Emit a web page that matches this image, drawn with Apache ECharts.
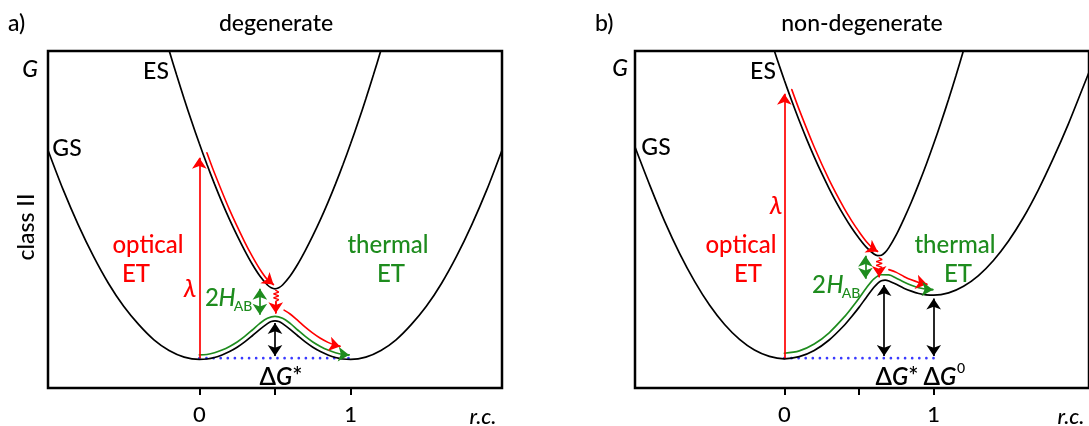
<!DOCTYPE html>
<html><head><meta charset="utf-8">
<script src="https://cdn.jsdelivr.net/npm/echarts@6/dist/echarts.min.js"></script>
<style>html,body{margin:0;padding:0;background:#fff}#c{width:1089px;height:426px}</style>
</head><body><div id="c"></div>
<script>
// ---------------- data (reaction coordinate x, free energy G) ----------------
const xTicks = [0, 0.5, 1];
const xTickLabels = [0, 1];
const panelTitles = ['degenerate', 'non-degenerate'];
const panelLetters = ['a)', 'b)'];

// panel a: degenerate
const gsA = [[-1,0.975],[-0.9,0.79],[-0.8,0.625],[-0.7,0.478],[-0.6,0.35],[-0.5,0.243],[-0.4,0.157],[-0.3,0.086],[-0.2,0.036],[-0.1,0.005],[0,-0.006],[0.05,-0.004],[0.1,0.003],[0.15,0.015],[0.2,0.031],[0.25,0.051],[0.3,0.076],[0.35,0.105],[0.4,0.135],[0.45,0.162],[0.475,0.172],[0.5,0.175],[0.525,0.172],[0.55,0.162],[0.6,0.135],[0.65,0.105],[0.7,0.076],[0.75,0.051],[0.8,0.031],[0.85,0.015],[0.9,0.003],[0.95,-0.004],[1,-0.006],[1.1,0.005],[1.2,0.036],[1.3,0.086],[1.4,0.157],[1.5,0.243],[1.6,0.35],[1.7,0.478],[1.8,0.625],[1.9,0.79],[2,0.975]];
const esA = [[-0.25,1.566],[-0.2,1.444],[-0.15,1.327],[-0.1,1.215],[-0.05,1.108],[0,1.006],[0.05,0.909],[0.1,0.817],[0.15,0.73],[0.2,0.649],[0.25,0.574],[0.3,0.504],[0.35,0.44],[0.4,0.385],[0.45,0.343],[0.475,0.33],[0.5,0.325],[0.525,0.33],[0.55,0.343],[0.6,0.385],[0.65,0.44],[0.7,0.504],[0.75,0.574],[0.8,0.649],[0.85,0.73],[0.9,0.817],[0.95,0.909],[1,1.006],[1.05,1.108],[1.1,1.215],[1.15,1.327],[1.2,1.444],[1.25,1.566]];
const opticalA = [[0,0],[0,0.94]];
const relaxA = [[0.05,0.963],[0.1,0.868],[0.2,0.695],[0.3,0.544],[0.35,0.477],[0.4,0.417],[0.45,0.368],[0.49,0.345]];
const wavyA = [[0.505,0.318],[0.525,0.31],[0.49,0.301],[0.525,0.292],[0.49,0.283],[0.525,0.274],[0.505,0.266],[0.505,0.21]];
const decayA = [[0.56,0.225],[0.6,0.207],[0.65,0.177],[0.7,0.145],[0.75,0.117],[0.8,0.093],[0.85,0.074],[0.9,0.06],[0.93,0.055]];
const thermalA = [[0,0.015],[0.05,0.017],[0.1,0.025],[0.15,0.038],[0.2,0.055],[0.25,0.076],[0.3,0.102],[0.35,0.132],[0.4,0.163],[0.45,0.187],[0.5,0.196],[0.55,0.187],[0.6,0.163],[0.65,0.132],[0.7,0.102],[0.75,0.076],[0.8,0.055],[0.85,0.038],[0.9,0.025],[0.95,0.017],[0.99,0.015]];
const habA = [[0.4,0.325],[0.4,0.203]];
const dGstarA = [[0.5,0.165],[0.5,0.01]];
const baseA = [[0,0],[1,0]];

// panel b: non-degenerate
const gsB = [[-1,0.99],[-0.9,0.809],[-0.8,0.639],[-0.7,0.489],[-0.6,0.359],[-0.5,0.248],[-0.4,0.158],[-0.3,0.088],[-0.2,0.038],[-0.1,0.008],[0,-0.003],[0.1,0.007],[0.2,0.036],[0.3,0.085],[0.4,0.153],[0.45,0.194],[0.5,0.238],[0.55,0.286],[0.6,0.332],[0.625,0.351],[0.65,0.3625],[0.675,0.366],[0.7,0.362],[0.75,0.346],[0.8,0.328],[0.85,0.314],[0.9,0.303],[0.95,0.297],[1,0.295],[1.1,0.306],[1.2,0.337],[1.3,0.387],[1.4,0.458],[1.5,0.548],[1.6,0.658],[1.7,0.788],[1.8,0.935],[1.9,1.095],[2,1.27],[2.04,1.34]];
const esB = [[-0.1,1.512],[-0.05,1.405],[0,1.303],[0.05,1.2055],[0.1,1.113],[0.15,1.026],[0.2,0.944],[0.25,0.867],[0.3,0.795],[0.35,0.728],[0.4,0.667],[0.45,0.611],[0.5,0.562],[0.55,0.519],[0.6,0.488],[0.625,0.481],[0.65,0.4825],[0.675,0.496],[0.7,0.518],[0.75,0.579],[0.8,0.652],[0.85,0.731],[0.9,0.817],[0.95,0.908],[1,1.005],[1.05,1.107],[1.1,1.214],[1.15,1.326],[1.2,1.443],[1.25,1.566]];
const opticalB = [[0,0],[0,1.24]];
const relaxB = [[0.05,1.259],[0.1,1.164],[0.2,0.99],[0.3,0.836],[0.4,0.703],[0.45,0.645],[0.5,0.593],[0.55,0.546],[0.6,0.51],[0.625,0.5]];
const wavyB = [[0.635,0.47],[0.655,0.462],[0.615,0.453],[0.655,0.444],[0.615,0.435],[0.655,0.426],[0.635,0.418],[0.635,0.38]];
const decayB = [[0.7,0.415],[0.75,0.402],[0.8,0.383],[0.85,0.367],[0.9,0.355],[0.955,0.346]];
const thermalB = [[0,0.023],[0.1,0.034],[0.2,0.066],[0.3,0.119],[0.4,0.192],[0.45,0.235],[0.5,0.281],[0.55,0.33],[0.6,0.372],[0.65,0.391],[0.7,0.39],[0.75,0.375],[0.8,0.357],[0.85,0.342],[0.9,0.33],[0.95,0.323],[0.995,0.321]];
const habB = [[0.543,0.48],[0.543,0.372]];
const dGstarB = [[0.668,0.343],[0.668,0.01]];
const dG0B = [[1,0.28],[1,0.01]];
const baseB = [[0,0],[1,0]];

// ---------------- styling ----------------
const RED = '#ff0000', GREEN = '#1e8c1e', BLUE = '#3a3aff', BLACK = '#000';
const FONT = 'Lato, "Open Sans", sans-serif';

function curve(data, color, gi, width, z, dotted) {
  return { type: 'line', xAxisIndex: gi, yAxisIndex: gi, data: data, showSymbol: false, symbol: 'none',
    smooth: dotted ? false : 0.3, silent: true, z: z || 2,
    lineStyle: { color: color, width: width || 1.6, type: dotted ? [0.1, 7] : 'solid', cap: 'round' } };
}
function heads(segs, color, gi, both) {
  return { type: 'lines', coordinateSystem: 'cartesian2d', xAxisIndex: gi, yAxisIndex: gi, silent: true, z: 5,
    symbol: both ? ['arrow', 'arrow'] : ['none', 'arrow'], symbolSize: 11,
    lineStyle: { color: color, width: 1.7, opacity: 1, curveness: 0 },
    data: segs.map(s => ({ coords: s })) };
}
const lastSeg = p => [p[p.length - 2], p[p.length - 1]];

const series = [];
[[gsA, esA, opticalA, relaxA, wavyA, decayA, thermalA, habA, [dGstarA], baseA],
 [gsB, esB, opticalB, relaxB, wavyB, decayB, thermalB, habB, [dGstarB, dG0B], baseB]].forEach((P, gi) => {
  const [gs, es, opt, relax, wavy, decay, therm, hab, dgs, base] = P;
  series.push(curve(base, BLUE, gi, 2.6, 1, true));
  series.push(curve(gs, BLACK, gi, 1.7, 2));
  series.push(curve(es, BLACK, gi, 1.7, 2));
  series.push(curve(therm, GREEN, gi, 1.7, 3));
  series.push(curve(relax, RED, gi, 1.6, 3));
  series.push({ ...curve(wavy, RED, gi, 1.3, 3), smooth: false });
  series.push(curve(decay, RED, gi, 1.6, 3));
  series.push(heads([opt], RED, gi, false));
  series.push(heads([lastSeg(relax), lastSeg(wavy), lastSeg(decay)], RED, gi, false));
  series.push(heads([lastSeg(therm)], GREEN, gi, false));
  series.push(heads([hab], GREEN, gi, true));
  series.push(heads(dgs, BLACK, gi, true));
});

function T(x, y, text, size, color, o) {
  o = o || {};
  return { type: 'text', x: x, y: y, rotation: o.rot || 0, silent: true, z: 100,
    style: { text: text, fill: color || BLACK,
      font: (o.italic ? 'italic ' : '') + (o.weight || 500) + ' ' + size + 'px ' + FONT,
      textAlign: o.align || 'center', align: o.align || 'center',
      textVerticalAlign: 'middle', verticalAlign: 'middle' } };
}

const graphics = [
  T(8, 24, panelLetters[0], 23, BLACK, { align: 'left' }),
  T(276, 24, panelTitles[0], 23),
  T(30, 70, 'G', 23, BLACK, { italic: true }),
  T(27, 227, 'class II', 23, BLACK, { rot: Math.PI / 2 }),
  T(156, 72, 'ES', 23),
  T(67, 149, 'GS', 23),
  T(148, 245, 'optical', 24, RED),
  T(136, 274, 'ET', 24, RED),
  T(388, 245, 'thermal', 24, GREEN),
  T(391, 274, 'ET', 24, GREEN),
  T(190, 289, 'λ', 25, RED, { italic: true }),
  T(212, 298, '2', 24, GREEN),
  T(227, 298, 'H', 24, GREEN, { italic: true }),
  T(243, 306, 'AB', 14, GREEN),
  T(281, 377, '{a|Δ}{b|G}{a|*}', 24),
  T(483, 417, 'r.c.', 22, BLACK, { italic: true }),

  T(595, 24, panelLetters[1], 23, BLACK, { align: 'left' }),
  T(862, 24, panelTitles[1], 23),
  T(620, 69, 'G', 23, BLACK, { italic: true }),
  T(763, 72, 'ES', 23),
  T(656, 148, 'GS', 23),
  T(741, 245, 'optical', 24, RED),
  T(748, 274, 'ET', 24, RED),
  T(955, 245, 'thermal', 24, GREEN),
  T(958, 274, 'ET', 24, GREEN),
  T(776, 206, 'λ', 25, RED, { italic: true }),
  T(819, 285, '2', 24, GREEN),
  T(835, 285, 'H', 24, GREEN, { italic: true }),
  T(851, 293, 'AB', 14, GREEN),
  T(897, 377, '{a|Δ}{b|G}{a|*}', 24),
  T(940, 377, '{a|Δ}{b|G}', 24),
  T(961, 368, '0', 14),
  T(1071, 417, 'r.c.', 22, BLACK, { italic: true })
];
graphics.forEach(g => {
  if (g.style.text.indexOf('{') >= 0) {
    g.style.rich = { a: { fontSize: 24, fontFamily: FONT, fontWeight: 600, fill: BLACK, color: BLACK },
                     b: { fontSize: 24, fontFamily: FONT, fontWeight: 600, fontStyle: 'italic', fill: BLACK, color: BLACK } };
  }
});

function xAx(gi, max) {
  return { type: 'value', gridIndex: gi, min: -1, max: max,
    axisLine: { show: false, onZero: false }, splitLine: { show: false },
    axisTick: { show: true, inside: false, length: 7, lineStyle: { color: BLACK, width: 2 }, customValues: xTicks },
    axisLabel: { show: true, customValues: xTickLabels, margin: 16, fontSize: 22, fontWeight: 500, fontFamily: FONT, color: BLACK } };
}
function yAx(gi) {
  return { type: 'value', gridIndex: gi, min: -0.14, max: 1.44, show: false, splitLine: { show: false } };
}

const chart = echarts.init(document.getElementById('c'), null, { renderer: 'canvas' });
chart.setOption({
  animation: false,
  backgroundColor: '#fff',
  grid: [
    { left: 48, top: 51, width: 454, height: 338, show: true, borderColor: BLACK, borderWidth: 2.5, backgroundColor: 'transparent', containLabel: false },
    { left: 635, top: 51, width: 460, height: 338, show: true, borderColor: BLACK, borderWidth: 2.5, backgroundColor: 'transparent', containLabel: false }
  ],
  xAxis: [xAx(0, 2), xAx(1, 2.04)],
  yAxis: [yAx(0), yAx(1)],
  series: series,
  graphic: graphics
});
</script></body></html>
